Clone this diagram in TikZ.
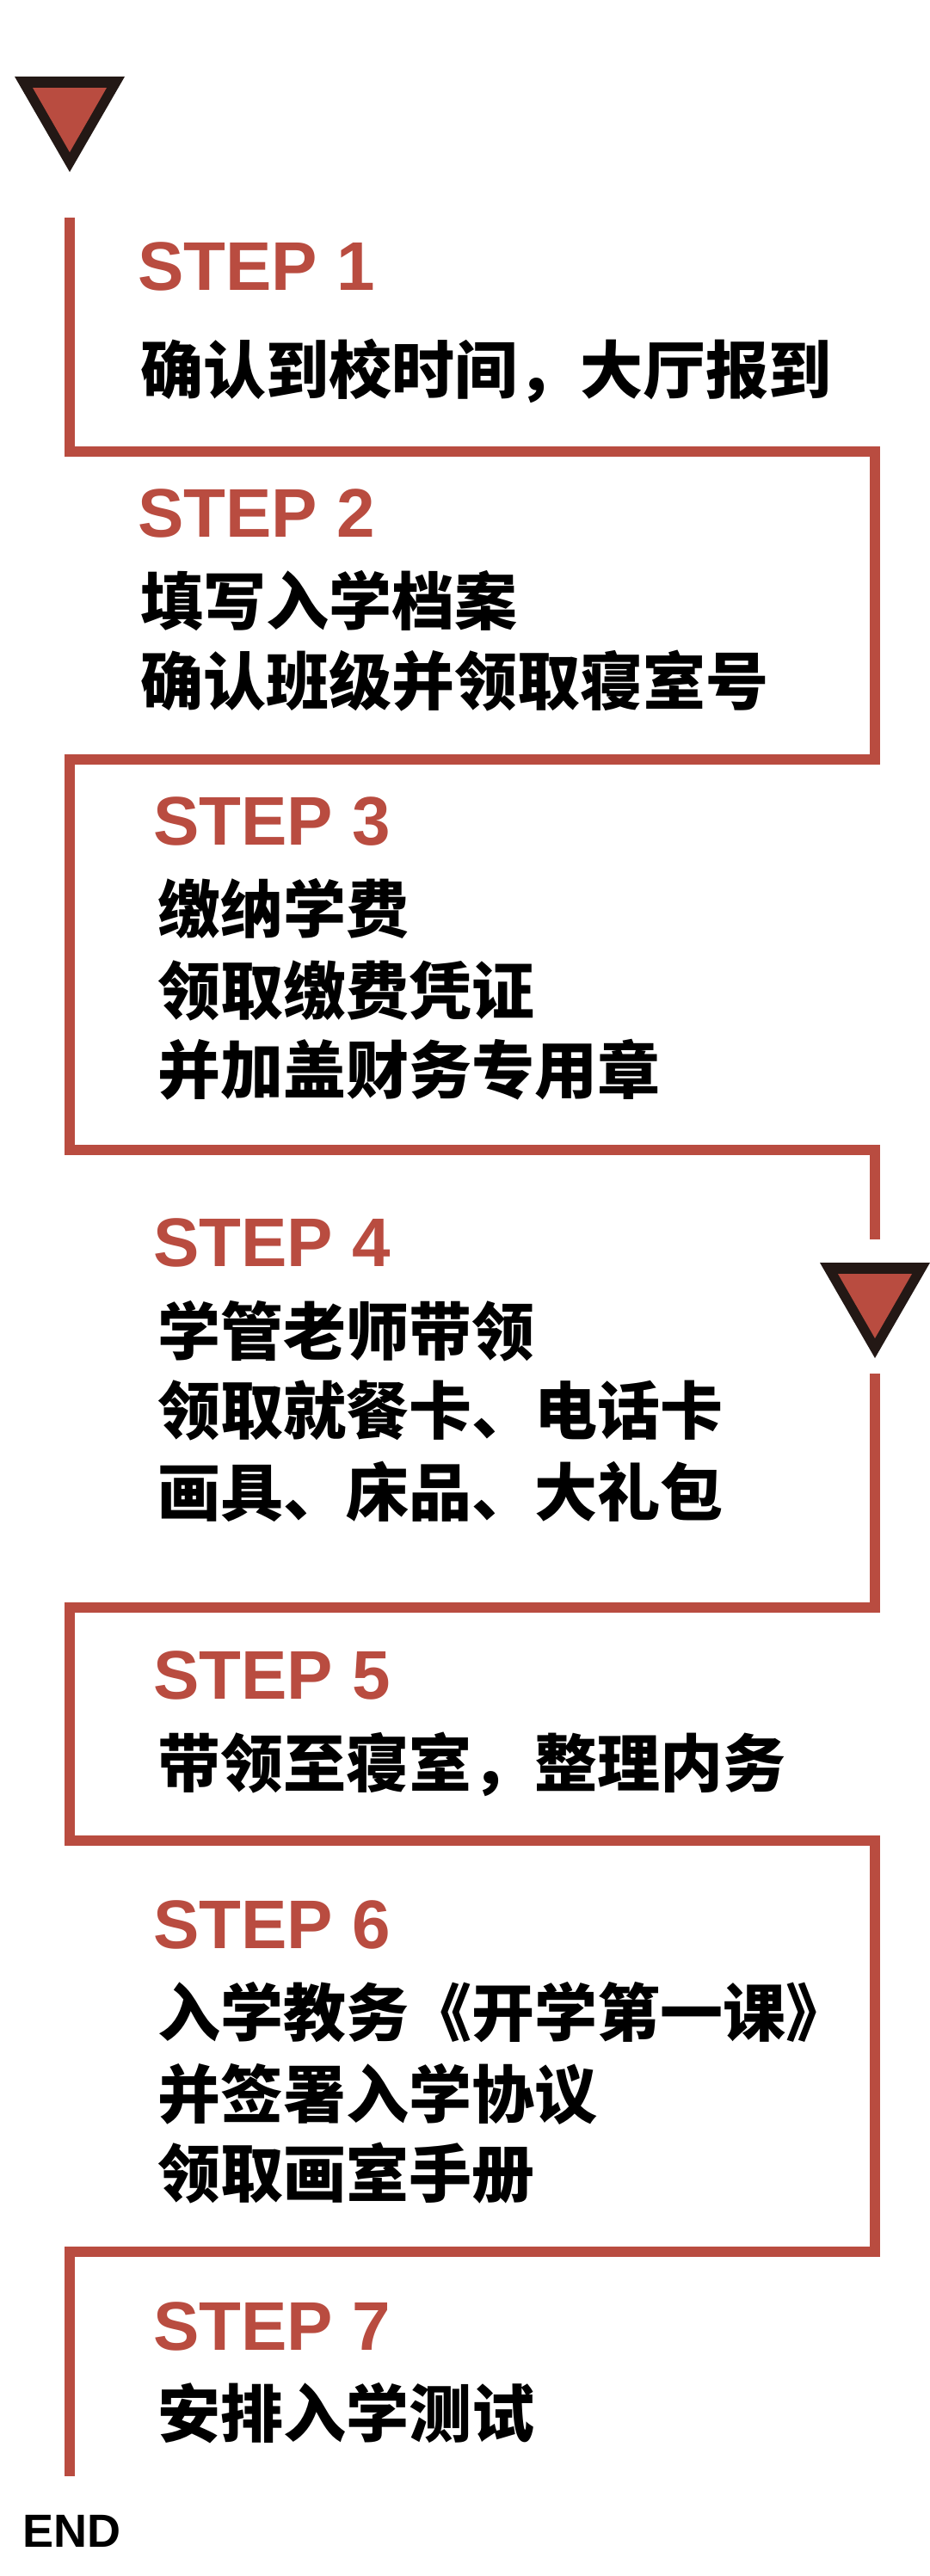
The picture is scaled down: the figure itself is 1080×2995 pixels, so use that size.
\documentclass[tikz,border=0pt]{standalone}
\usepackage{fontspec}
\setmainfont{Liberation Sans}
\newfontfamily\cjkfont{Noto Sans CJK SC}
\definecolor{brick}{HTML}{B94C40}
\definecolor{darkbrown}{HTML}{231815}
\begin{document}
\begin{tikzpicture}[x=1pt,y=-1pt,
  steplabel/.style={anchor=base west, inner sep=0pt, text=brick, font=\fontsize{80}{80}\selectfont\bfseries},
  desc/.style={anchor=base west, inner sep=0pt, text=black, font=\fontsize{73}{73}\selectfont\cjkfont\bfseries},
  route/.style={draw=brick, line width=12pt, line join=miter, line cap=butt},
  outertri/.style={fill=darkbrown},
  innertri/.style={fill=brick}]
\useasboundingbox (0,0) rectangle (1080,2995);
\fill[white] (0,0) rectangle (1080,2995);

% route coordinates
\coordinate (a0) at (81,253);
\coordinate (a1) at (81,525);
\coordinate (a2) at (1017,525);
\coordinate (a3) at (1017,883);
\coordinate (a4) at (81,883);
\coordinate (a5) at (81,1337);
\coordinate (a6) at (1017,1337);
\coordinate (a7) at (1017,1441);
\coordinate (b0) at (1017,1597);
\coordinate (b1) at (1017,1869);
\coordinate (b2) at (81,1869);
\coordinate (b3) at (81,2140);
\coordinate (b4) at (1017,2140);
\coordinate (b5) at (1017,2618);
\coordinate (b6) at (81,2618);
\coordinate (b7) at (81,2879);

\draw[route] (a0) -- (a1) -- (a2) -- (a3) -- (a4) -- (a5) -- (a6) -- (a7);
\draw[route] (b0) -- (b1) -- (b2) -- (b3) -- (b4) -- (b5) -- (b6) -- (b7);

% triangles
\fill[outertri] (17,89) -- (145,89) -- (81,200) -- cycle;
\fill[innertri] (38,102) -- (124,102) -- (81,177) -- cycle;
\fill[outertri] (953,1468) -- (1081,1468) -- (1017,1579) -- cycle;
\fill[innertri] (974,1481) -- (1060,1481) -- (1017,1556) -- cycle;

% step 1
\node[steplabel] (s1) at (160,337) {STEP 1};
\node[desc] (d1a) at (163,457) {确认到校时间，大厅报到};
% step 2
\node[steplabel] (s2) at (160,624) {STEP 2};
\node[desc] (d2a) at (163,726) {填写入学档案};
\node[desc] (d2b) at (163,819) {确认班级并领取寝室号};
% step 3
\node[steplabel] (s3) at (178,982) {STEP 3};
\node[desc] (d3a) at (183,1084) {缴纳学费};
\node[desc] (d3b) at (183,1179) {领取缴费凭证};
\node[desc] (d3c) at (183,1271) {并加盖财务专用章};
% step 4
\node[steplabel] (s4) at (178,1472) {STEP 4};
\node[desc] (d4a) at (183,1575) {学管老师带领};
\node[desc] (d4b) at (183,1667) {领取就餐卡、电话卡};
\node[desc] (d4c) at (183,1762) {画具、床品、大礼包};
% step 5
\node[steplabel] (s5) at (178,1975) {STEP 5};
\node[desc] (d5a) at (183,2077) {带领至寝室，整理内务};
% step 6
\node[steplabel] (s6) at (178,2265) {STEP 6};
\node[desc] (d6a) at (183,2367) {入学教务《开学第一课》};
\node[desc] (d6b) at (183,2462) {并签署入学协议};
\node[desc] (d6c) at (183,2554) {领取画室手册};
% step 7
\node[steplabel] (s7) at (178,2732) {STEP 7};
\node[desc] (d7a) at (183,2833) {安排入学测试};
% end
\node[anchor=base west, inner sep=0pt, font=\fontsize{54}{54}\selectfont\bfseries] (endlabel) at (26,2961) {END};
\end{tikzpicture}
\end{document}
